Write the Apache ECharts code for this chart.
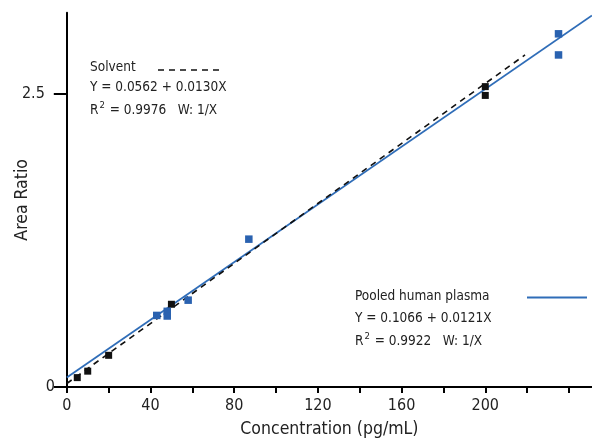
<!DOCTYPE html>
<html>
<head>
<meta charset="utf-8">
<script src="https://cdn.jsdelivr.net/npm/echarts@6/dist/echarts.min.js"></script>
<style>
html,body{margin:0;padding:0;background:#fff;}
#c{width:592px;height:439px;}
</style>
</head>
<body>
<div id="c"></div>
<script>
// ---- data ----
var solventX = [5, 10, 20, 50, 200, 200];
var solventY = [0.08, 0.135, 0.27, 0.705, 2.56, 2.485];
var plasmaX = [43, 48, 48, 58, 87, 235, 235];
var plasmaY = [0.61, 0.645, 0.605, 0.74, 1.26, 3.01, 2.83];
var solventFitX = [0, 219];
var solventFitY = [0.03, 2.83];
var plasmaFitX = [0, 251];
var plasmaFitY = [0.08, 3.167];
var xTicks = [0, 20, 40, 60, 80, 100, 120, 140, 160, 180, 200, 220, 240];
var xLabels = [0, 40, 80, 120, 160, 200];
var yTicks = [0, 2.5];
var solventText = ['Solvent', 'Y = 0.0562 + 0.0130X', '0.9976'];
var plasmaText = ['Pooled human plasma', 'Y = 0.1066 + 0.0121X', '0.9922'];

function pairs(xs, ys) { return xs.map(function (x, i) { return [x, ys[i]]; }); }

var FONT = "'Liberation Sans Narrow','DejaVu Sans Condensed','Roboto Condensed',sans-serif";
var BLUE = '#2f6db8';
var chart = echarts.init(document.getElementById('c'), null, {renderer: 'canvas'});

function r2Text(v) { return 'R{sup|2} = ' + v + '   W: 1/X'; }
var richSup = {sup: {fontSize: 9.5, fontFamily: FONT, fill: '#222', padding: [0, 1, 9, 1]}};
function txt(x, y, s, rich) {
  return {type: 'text', left: x, top: y, style: {text: s, fontFamily: FONT, fontSize: 13.5, fill: '#222', rich: rich}};
}

chart.setOption({
  animation: false,
  grid: {left: 66.8, right: 0, top: 12.7, bottom: 52, containLabel: false, outerBoundsMode: 'none'},
  xAxis: {
    type: 'value', min: 0, max: 251,
    name: 'Concentration (pg/mL)', nameLocation: 'middle', nameGap: 33, nameMoveOverlap: false,
    nameTextStyle: {fontFamily: FONT, fontSize: 17.5, color: '#222'},
    axisLine: {lineStyle: {color: '#000', width: 2}},
    axisTick: {show: true, length: 6, customValues: xTicks, lineStyle: {color: '#000', width: 2}},
    axisLabel: {customValues: xLabels, fontFamily: FONT, fontSize: 16, color: '#222', margin: 11},
    splitLine: {show: false}
  },
  yAxis: {
    type: 'value', min: 0, max: 3.19,
    name: 'Area Ratio', nameLocation: 'middle', nameGap: 35, nameMoveOverlap: false,
    nameTextStyle: {fontFamily: FONT, fontSize: 17.5, color: '#222'},
    axisLine: {show: true, lineStyle: {color: '#000', width: 2}},
    axisTick: {show: true, length: 13, customValues: yTicks, lineStyle: {color: '#000', width: 2}},
    axisLabel: {customValues: yTicks, fontFamily: FONT, fontSize: 16, color: '#222', margin: 12,
      formatter: function (v) { return v === 0 ? '0' : '{a|' + v + '}'; },
      rich: {a: {fontFamily: FONT, fontSize: 16, color: '#222', padding: [0, 10, 0, 0]}}},
    splitLine: {show: false}
  },
  series: [
    {type: 'line', data: pairs(plasmaFitX, plasmaFitY), showSymbol: false, symbol: 'none',
      lineStyle: {color: BLUE, width: 1.8}, z: 2},
    {type: 'line', data: pairs(solventFitX, solventFitY), showSymbol: false, symbol: 'none',
      lineStyle: {color: '#111', width: 1.6, type: [6, 5]}, z: 3},
    {type: 'scatter', data: pairs(solventX, solventY), symbol: 'rect', symbolSize: 7,
      itemStyle: {color: '#111', opacity: 1}, z: 4},
    {type: 'scatter', data: pairs(plasmaX, plasmaY), symbol: 'rect', symbolSize: 7.5,
      itemStyle: {color: '#2a62b0', opacity: 1}, z: 5}
  ],
  graphic: [
    txt(90, 60, solventText[0]),
    txt(90, 80, solventText[1]),
    txt(90, 101, r2Text(solventText[2]), richSup),
    {type: 'line', shape: {x1: 158, y1: 70, x2: 219, y2: 70},
      style: {stroke: '#111', lineWidth: 1.6, lineDash: [6, 5]}},
    txt(355, 289, plasmaText[0]),
    txt(355, 311, plasmaText[1]),
    txt(355, 332, r2Text(plasmaText[2]), richSup),
    {type: 'line', shape: {x1: 527, y1: 297.5, x2: 587, y2: 297.5},
      style: {stroke: BLUE, lineWidth: 1.8}}
  ]
});
</script>
</body>
</html>
